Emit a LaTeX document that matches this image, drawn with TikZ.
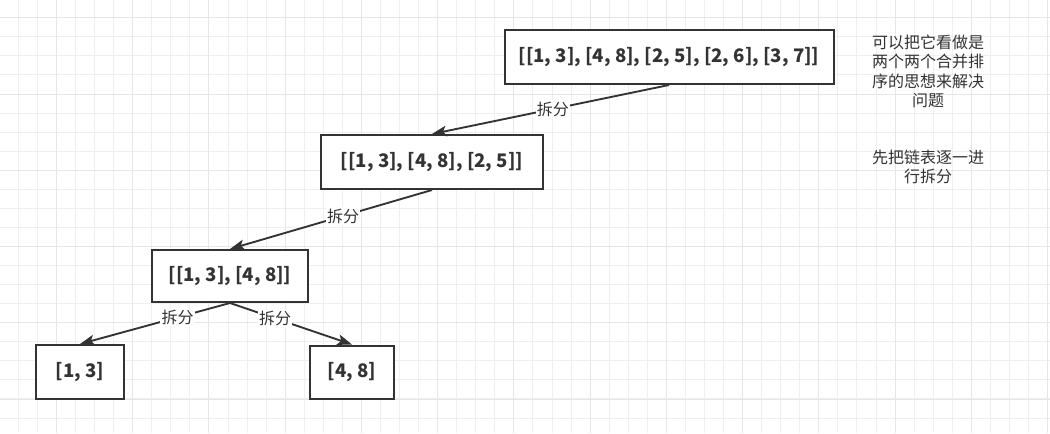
\documentclass[tikz,border=0pt]{standalone}
\usepackage{fontspec}
\setmainfont{Noto Sans CJK SC}
\usetikzlibrary{arrows.meta}

\definecolor{ink}{HTML}{333333}
\definecolor{minorgrid}{HTML}{EFEFEF}
\definecolor{majorgrid}{HTML}{E6E6E6}

\tikzset{
  listbox/.style={draw=ink,line width=1.5pt,fill=white,text=ink,inner sep=0pt,
    font=\fontsize{14}{16}\selectfont\bfseries},
  split/.style={draw=ink,line width=1.4pt,
    -{Stealth[length=11pt,width=8pt,inset=2.5pt]}},
  splittag/.style={fill=white,text=ink,inner sep=1pt,
    font=\fontsize{12}{14}\selectfont},
  remark/.style={text=ink,align=center,
    font=\fontsize{12}{14.6}\selectfont}
}

\begin{document}
\begin{tikzpicture}[x=0.75pt,y=-0.75pt]
  \useasboundingbox[fill=white] (0,0) rectangle (1050,433);

  \foreach \i in {0,...,55}
    \draw[minorgrid,line width=0.75pt] ({round(-1.2+19.06*\i)+0.5},0) -- ({round(-1.2+19.06*\i)+0.5},433);
  \foreach \j in {0,...,23}
    \draw[minorgrid,line width=0.75pt] (0,{round(-1.76+19.06*\j)+0.5}) -- (1050,{round(-1.76+19.06*\j)+0.5});
  \foreach \i in {0,...,13}
    \draw[majorgrid,line width=0.75pt] ({round(56+76.24*\i)+0.5},0) -- ({round(56+76.24*\i)+0.5},433);
  \foreach \j in {0,...,5}
    \draw[majorgrid,line width=0.75pt] (0,{round(17.3+76.24*\j)+0.5}) -- (1050,{round(17.3+76.24*\j)+0.5});

  \node[listbox,minimum width=246.75pt,minimum height=40.5pt] (all)   at (669,57)  {[[1, 3], [4, 8], [2, 5], [2, 6], [3, 7]]};
  \node[listbox,minimum width=166.5pt,minimum height=40.5pt]  (three) at (432,162) {[[1, 3], [4, 8], [2, 5]]};
  \node[listbox,minimum width=117pt,minimum height=39pt]      (two)   at (230,276) {[[1, 3], [4, 8]]};
  \node[listbox,minimum width=66pt,minimum height=40.5pt]     (left)  at (80,372)  {[1, 3]};
  \node[listbox,minimum width=63pt,minimum height=39.75pt]    (right) at (352,372) {[4, 8]};

  \draw[split] (all.south)   -- node[splittag,pos=0.49] {拆分} (three.north);
  \draw[split] (three.south) -- node[splittag,pos=0.44] {拆分} (two.north);
  \draw[split] (two.south)   -- node[splittag,pos=0.35] {拆分} (left.north);
  \draw[split] (two.south)   -- node[splittag,pos=0.37] {拆分} (right.north);

  \node[remark] (idea) at (928,71.5) {可以把它看做是\\两个两个合并排\\序的思想来解决\\问题};
  \node[remark] (step) at (928,167)  {先把链表逐一进\\行拆分};
\end{tikzpicture}
\end{document}
